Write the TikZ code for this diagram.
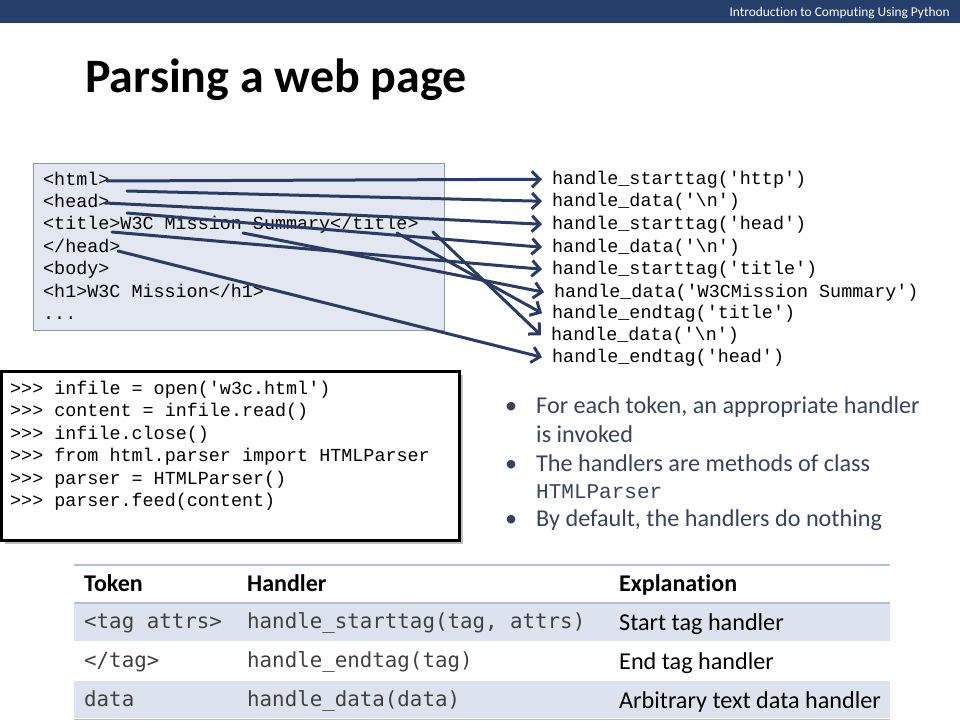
\documentclass[tikz,border=0pt]{standalone}
\usepackage{fontspec}
\setmainfont{Carlito}[Ligatures=NoCommon]
\setmonofont{Liberation Mono}
\newfontfamily\sansmono{DejaVu Sans Mono}
\usetikzlibrary{arrows.meta}

\definecolor{barblue}{HTML}{263F6A}
\definecolor{arrowblue}{HTML}{2B3C63}
\definecolor{htmlfill}{HTML}{E2E7F1}
\definecolor{htmlframe}{HTML}{8E98AA}
\definecolor{rowfill}{HTML}{DDE3EE}
\definecolor{rulegray}{HTML}{B6C0CE}
\definecolor{bullettext}{HTML}{36425E}
\definecolor{celltext}{HTML}{404040}

\begin{document}
\begin{tikzpicture}[x=1pt, y=-1pt,
    every node/.style={inner sep=0pt, anchor=base west},
    code/.style={font=\fontsize{18.4}{22}\ttfamily\selectfont},
    handler/.style={font=\fontsize{18.4}{22}\ttfamily\selectfont, inner xsep=10pt, inner ysep=0pt},
    bullet/.style={font=\fontsize{24.2}{28}\selectfont, text=bullettext},
    cell/.style={font=\fontsize{20.8}{25}\sansmono\selectfont, text=celltext},
    expl/.style={font=\fontsize{24.2}{28}\selectfont},
    head/.style={font=\fontsize{24}{28}\bfseries\selectfont},
    arr/.style={draw=arrowblue, line width=3pt, line cap=round,
      -{Straight Barb[length=8pt,width=16pt,line join=miter]}}]
  \useasboundingbox (0,0) rectangle (960,720);

  % top bar and title
  \fill[barblue] (0,0) rectangle (960,23);
  \node[anchor=east, text=white, font=\fontsize{13.4}{15}\selectfont] (course) at (950,13) {Introduction to Computing Using Python};
  \node[font=\fontsize{48}{56}\bfseries\selectfont] (title) at (85,92) {Parsing a web page};

  % html source
  \filldraw[fill=htmlfill, draw=htmlframe] (33,163) rectangle (444,330);
  \node[code] (l1) at (43,185) {<html>};
  \node[code] (l2) at (43,207.4) {<head>};
  \node[code] (l3) at (43,229.8) {<title>W3C Mission Summary</title>};
  \node[code] (l4) at (43,252.2) {</head>};
  \node[code] (l5) at (43,274.6) {<body>};
  \node[code] (l6) at (43,297) {<h1>W3C Mission</h1>};
  \node[code] (l7) at (43,319.4) {...};

  % handler calls
  \node[handler] (h1) at (542,184) {handle\_starttag('http')};
  \node[handler] (h2) at (542,206) {handle\_data('\textbackslash n')};
  \node[handler] (h3) at (542,229) {handle\_starttag('head')};
  \node[handler] (h4) at (542,252) {handle\_data('\textbackslash n')};
  \node[handler] (h5) at (542,274) {handle\_starttag('title')};
  \node[handler] (h6) at (544,297) {handle\_data('W3CMission Summary')};
  \node[handler] (h7) at (542,318) {handle\_endtag('title')};
  \node[handler] (h8) at (541,340) {handle\_data('\textbackslash n')};
  \node[handler] (h9) at (542,362) {handle\_endtag('head')};

  % where each token sits in the source
  \coordinate (s1) at (107,181);
  \coordinate (s2) at (127,191);
  \coordinate (s3) at (105,203);
  \coordinate (s4) at (127,213);
  \coordinate (s5) at (112,232);
  \coordinate (s6) at (243,233);
  \coordinate (s7) at (397,233);
  \coordinate (s8) at (433,232);
  \coordinate (s9) at (118,251);
  \draw[arr] (s1) -- (h1.west);
  \draw[arr] (s2) -- (h2.west);
  \draw[arr] (s3) -- (h3.west);
  \draw[arr] (s4) -- (h4.west);
  \draw[arr] (s5) -- (h5.west);
  \draw[arr] (s6) -- (h6.west);
  \draw[arr] (s7) -- (h7.west);
  \draw[arr] (s8) -- (h8.west);
  \draw[arr] (s9) -- (h9.west);

  % shell session
  \fill[black!25] (5,375) rectangle (463,544);
  \filldraw[fill=white, draw=black, line width=3pt] (1,371) rectangle (459,540);
  \node[code] (c1) at (10,394) {>>> infile = open('w3c.html')};
  \node[code] (c2) at (10,416.5) {>>> content = infile.read()};
  \node[code] (c3) at (10,439) {>>> infile.close()};
  \node[code] (c4) at (10,461.5) {>>> from html.parser import HTMLParser};
  \node[code] (c5) at (10,484) {>>> parser = HTMLParser()};
  \node[code] (c6) at (10,506.5) {>>> parser.feed(content)};

  % notes
  \node[bullet] (d1) at (505,413) {\textbullet};
  \node[bullet] (b1) at (536,413) {For each token, an appropriate handler};
  \node[bullet] (b1b) at (536,442) {is invoked};
  \node[bullet] (d2) at (505,471) {\textbullet};
  \node[bullet] (b2) at (536,471) {The handlers are methods of class};
  \node[font=\fontsize{21}{25}\ttfamily\selectfont, text=bullettext] (b2b) at (536,498) {HTMLParser};
  \node[bullet] (d3) at (505,526) {\textbullet};
  \node[bullet] (b3) at (536,526) {By default, the handlers do nothing};

  % handler table
  \fill[rowfill] (74,604) rectangle (890,641);
  \fill[rowfill] (74,681) rectangle (890,718);
  \draw[rulegray, line width=2pt] (74,565) -- (890,565);
  \draw[rulegray, line width=1.5pt] (74,603) -- (890,603);
  \draw[rulegray, line width=1pt] (74,719) -- (890,719);
  \node[head] (t0) at (84,591) {Token};
  \node[head] (t1) at (247,591) {Handler};
  \node[head] (t2) at (619,591) {Explanation};
  \node[cell] (r1a) at (84,628) {<tag attrs>};
  \node[cell] (r1b) at (247,628) {handle\_starttag(tag, attrs)};
  \node[expl] (r1c) at (619,630) {Start tag handler};
  \node[cell] (r2a) at (84,667) {</tag>};
  \node[cell] (r2b) at (247,667) {handle\_endtag(tag)};
  \node[expl] (r2c) at (619,669) {End tag handler};
  \node[cell] (r3a) at (84,706) {data};
  \node[cell] (r3b) at (247,706) {handle\_data(data)};
  \node[expl] (r3c) at (619,708) {Arbitrary text data handler};
\end{tikzpicture}
\end{document}
